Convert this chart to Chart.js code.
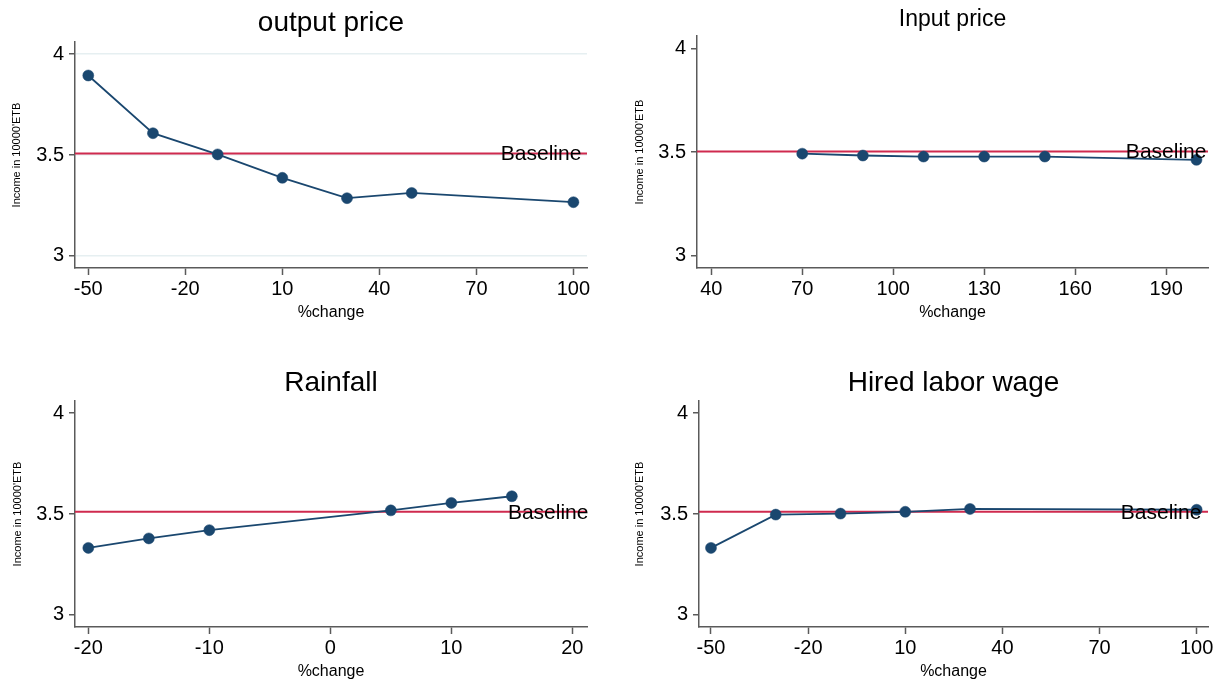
<!DOCTYPE html>
<html>
<head>
<meta charset="utf-8">
<script src="https://cdn.jsdelivr.net/npm/chart.js@4.4.1/dist/chart.umd.min.js"></script>
<style>
  html, body { margin: 0; padding: 0; background: #ffffff; overflow: hidden; width: 1221px; height: 681px; }
  canvas { position: absolute; }
</style>
</head>
<body>
<canvas id="c1" width="610" height="340" style="left:0px;top:0px;"></canvas>
<canvas id="c2" width="601" height="340" style="left:620px;top:0px;"></canvas>
<canvas id="c3" width="610" height="341" style="left:0px;top:340px;"></canvas>
<canvas id="c4" width="601" height="341" style="left:620px;top:340px;"></canvas>
<script>
// ---- data ----
const outputX = [-50, -30, -10, 10, 30, 50, 100];
const outputY = [3.894, 3.608, 3.503, 3.387, 3.286, 3.312, 3.266];
const inputX  = [70, 90, 110, 130, 150, 200];
const inputY  = [3.492, 3.483, 3.478, 3.478, 3.478, 3.462];
const rainX   = [-20, -15, -10, 5, 10, 15];
const rainY   = [3.332, 3.379, 3.420, 3.518, 3.555, 3.588];
const wageX   = [-50, -30, -10, 10, 30, 100];
const wageY   = [3.332, 3.497, 3.502, 3.511, 3.525, 3.521];

const baselineOutput = 3.508;
const baselineInput  = 3.503;
const baselineRain   = 3.511;
const baselineWage   = 3.511;

const xTicksOutput = [-50, -20, 10, 40, 70, 100];
const xTicksInput  = [40, 70, 100, 130, 160, 190];
const xTicksRain   = [-20, -10, 0, 10, 20];
const xTicksWage   = [-50, -20, 10, 40, 70, 100];
const yTicks       = [3, 3.5, 4];

const titles = ["output price", "Input price", "Rainfall", "Hired labor wage"];
const yTitle = "Income in 10000'ETB";
const xTitle = "%change";
const baselineText = "Baseline";

// ---- styling ----
const FONT = '"Liberation Sans", Arial, Helvetica, sans-serif';
Chart.defaults.font.family = FONT;
Chart.defaults.color = '#000';
const NAVY = '#1a476f';
const RED = '#cf2a4e';
const AXIS = '#5a5a5a';

const baselineLabel = {
  id: 'baselineLabel',
  afterDatasetsDraw(chart, args, opts) {
    const ctx = chart.ctx;
    const xs = chart.scales.x, ys = chart.scales.y;
    ctx.save();
    ctx.font = '21px ' + FONT;
    ctx.fillStyle = '#000';
    ctx.textAlign = 'center';
    ctx.textBaseline = 'middle';
    ctx.fillText(opts.text, xs.getPixelForValue(opts.x), ys.getPixelForValue(opts.y) + 1);
    ctx.restore();
  }
};

function makePanel(id, p) {
  const series = p.xs.map((x, i) => ({ x: x, y: p.ys[i] }));
  const base = [{ x: p.xMin, y: p.base }, { x: p.xMax, y: p.base }];
  new Chart(document.getElementById(id), {
    type: 'scatter',
    data: {
      datasets: [
        {
          data: series, showLine: true, order: 0,
          borderColor: NAVY, borderWidth: 1.8,
          pointRadius: 5.5, pointHoverRadius: 5.5,
          pointBackgroundColor: NAVY, pointBorderColor: NAVY, pointBorderWidth: 0.5,
          clip: false
        },
        {
          data: base, showLine: true, order: 1,
          borderColor: RED, borderWidth: 2, pointRadius: 0
        }
      ]
    },
    plugins: [baselineLabel],
    options: {
      responsive: false, animation: false, devicePixelRatio: 1,
      events: [],
      layout: { padding: { left: 0, right: p.padRight, top: 0, bottom: 0 } },
      plugins: {
        legend: { display: false },
        tooltip: { enabled: false },
        title: {
          display: true, text: p.title, color: '#000', fullSize: false,
          font: { size: p.titleSize, weight: 'normal' },
          padding: { top: p.titleTop, bottom: p.titleBottom }
        },
        baselineLabel: { text: baselineText, x: p.labelX, y: p.base }
      },
      scales: {
        x: {
          type: 'linear', min: p.xMin, max: p.xMax,
          afterBuildTicks: s => { s.ticks = p.xTicks.map(v => ({ value: v })); },
          afterFit: s => { s.height = p.xHeight; },
          border: { display: true, color: AXIS, width: 1.5 },
          grid: { display: true, drawOnChartArea: false, drawTicks: true, tickLength: 7, tickColor: AXIS, tickWidth: 1.5 },
          ticks: { autoSkip: false, maxRotation: 0, padding: 2, color: '#000', font: { size: 20 },
                   callback: v => String(v) },
          title: { display: true, text: xTitle, color: '#000', font: { size: 16 }, padding: { top: 0, bottom: p.xTitleBottom } }
        },
        y: {
          type: 'linear', min: p.yMin, max: p.yMax,
          afterBuildTicks: s => { s.ticks = yTicks.map(v => ({ value: v })); },
          afterFit: s => { s.width = p.yWidth; },
          border: { display: true, color: AXIS, width: 1.5 },
          grid: { display: true, drawOnChartArea: p.grid, color: '#e6eff1', lineWidth: 1.5,
                  drawTicks: true, tickLength: 6, tickColor: AXIS, tickWidth: 1.5 },
          ticks: { padding: 5, color: '#000', font: { size: 20 }, callback: v => String(v) },
          title: { display: true, text: yTitle, color: '#000', font: { size: 11 }, padding: { top: p.yTitleTop, bottom: 0 } }
        }
      }
    }
  });
}

makePanel('c1', {
  xs: outputX, ys: outputY, base: baselineOutput, xTicks: xTicksOutput,
  xMin: -54.1, xMax: 104.2, yMin: 2.94, yMax: 4.06, grid: true,
  title: titles[0], titleSize: 28, titleTop: 6.2, titleBottom: 2.2,
  padRight: 23, yWidth: 75, xHeight: 72, xTitleBottom: 17.4, yTitleTop: 10.4, labelX: 90
});
makePanel('c2', {
  xs: inputX, ys: inputY, base: baselineInput, xTicks: xTicksInput,
  xMin: 35.3, xMax: 203.8, yMin: 2.94, yMax: 4.06, grid: false,
  title: titles[1], titleSize: 23, titleTop: 5.7, titleBottom: 2.7,
  padRight: 13, yWidth: 77, xHeight: 72, xTitleBottom: 17.4, yTitleTop: 12.9, labelX: 190
});
makePanel('c3', {
  xs: rainX, ys: rainY, base: baselineRain, xTicks: xTicksRain,
  xMin: -21.1, xMax: 21.21, yMin: 2.94, yMax: 4.06, grid: false,
  title: titles[2], titleSize: 28, titleTop: 26.2, titleBottom: 1.2,
  padRight: 23, yWidth: 75, xHeight: 54, xTitleBottom: 0, yTitleTop: 10.9, labelX: 18
});
makePanel('c4', {
  xs: wageX, ys: wageY, base: baselineWage, xTicks: xTicksWage,
  xMin: -53.7, xMax: 103.5, yMin: 2.94, yMax: 4.06, grid: false,
  title: titles[3], titleSize: 28, titleTop: 26.2, titleBottom: 1.2,
  padRight: 13, yWidth: 79, xHeight: 54, xTitleBottom: 0, yTitleTop: 13.4, labelX: 89
});
</script>
</body>
</html>
